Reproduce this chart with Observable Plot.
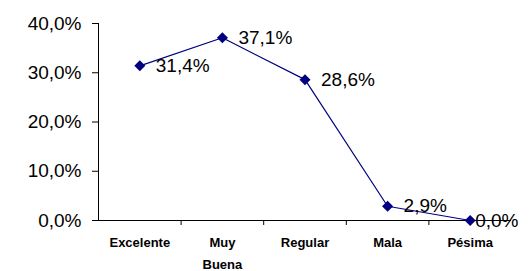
<!DOCTYPE html>
<html><head><meta charset="utf-8">
<script src="https://cdn.jsdelivr.net/npm/d3@7"></script>
<script src="https://cdn.jsdelivr.net/npm/@observablehq/plot@0.6"></script>
<style>body{margin:0;background:#fff}</style>
</head><body><div id="chart"></div>
<script>
const categories = ["Excelente", "Muy\nBuena", "Regular", "Mala", "Pésima"];
const values = [0.314, 0.371, 0.286, 0.029, 0.0];
const labels = ["31,4%", "37,1%", "28,6%", "2,9%", "0,0%"];
const yTicks = [0, 0.1, 0.2, 0.3, 0.4];

const data = categories.map((c, i) => ({i, c, v: values[i], label: labels[i]}));
const fmt = d => (d * 100).toFixed(1).replace(".", ",") + "%";
const betweenTicks = categories.slice(1).map((_, i) => i + 0.5);

const plot = Plot.plot({
  width: 531, height: 271,
  marginLeft: 98, marginRight: 20, marginTop: 23, marginBottom: 51,
  style: {fontFamily: "'Liberation Sans', Arial, sans-serif", background: "#fff", color: "#000", overflow: "visible"},
  x: {type: "linear", domain: [-0.5, categories.length - 0.5], axis: null},
  y: {domain: [0, 0.4], axis: null},
  marks: [
    Plot.axisY({ticks: yTicks, tickFormat: fmt, tickSize: 6, tickPadding: 11, fontSize: 19, label: null, ariaLabel: "yaxis"}),
    Plot.axisX({ticks: betweenTicks, tickSize: 5, tickFormat: () => "", label: null}),
    Plot.axisX({ticks: data.map(d => d.i), tickSize: 0, tickPadding: 11, tickFormat: i => categories[i],
      fontSize: 13, fontWeight: "bold", lineHeight: 1.7, label: null, ariaLabel: "xlabels"}),
    Plot.ruleX([-0.5]),
    Plot.ruleY([0]),
    Plot.line(data, {x: "i", y: "v", stroke: "#000080", strokeWidth: 1.2}),
    Plot.dot(data, {x: "i", y: "v", symbol: "square", r: 4.4, rotate: 45, fill: "#000080", stroke: null}),
    Plot.text(data.slice(0, -1), {x: "i", y: "v", text: "label", dx: 16, textAnchor: "start", fontSize: 19, ariaLabel: "datalabel"}),
    Plot.text(data.slice(-1), {x: "i", y: "v", text: "label", dx: 5, textAnchor: "start", fontSize: 19, ariaLabel: "datalabel"})
  ]
});
document.getElementById("chart").append(plot);
const svg = d3.select(plot);
svg.selectAll('g[aria-label="yaxis"] text, g[aria-label="datalabel"] text').style("letter-spacing", "1px");
svg.selectAll('g[aria-label="xlabels"] text').style("letter-spacing", "0.4px");
</script>
</body></html>
